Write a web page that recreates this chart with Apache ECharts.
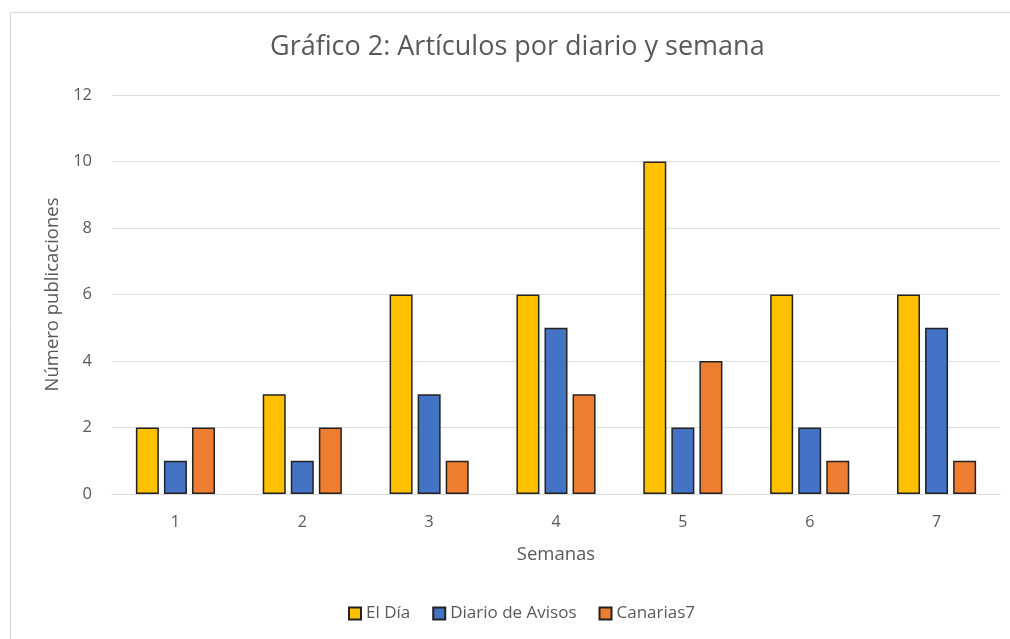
<!DOCTYPE html>
<html>
<head>
<meta charset="utf-8">
<script src="https://cdn.jsdelivr.net/npm/echarts@6/dist/echarts.min.js"></script>
<style>
	html, body { margin: 0; padding: 0; background: #fff; }
	#chart { width: 1010px; height: 639px; }
</style>
</head>
<body>
<div id="chart"></div>
<script>
	var semanas = ["1", "2", "3", "4", "5", "6", "7"];
	var elDia = [2, 3, 6, 6, 10, 6, 6];
	var diarioAvisos = [1, 1, 3, 5, 2, 2, 5];
	var canarias7 = [2, 2, 1, 3, 4, 1, 1];

	var font = "'Open Sans', 'Noto Sans', sans-serif";

	function barSerie(name, color, data) {
		return {
			name: name,
			type: "bar",
			data: data,
			barWidth: 23,
			barGap: "22%",
			itemStyle: {
				color: color,
				borderColor: "#222",
				borderWidth: 1.5
			}
		};
	}

	var chart = echarts.init(document.getElementById("chart"));

	chart.setOption({
		animation: false,
		textStyle: { fontFamily: font },
		graphic: [{
			type: "rect",
			shape: { x: 10.5, y: 12.5, width: 1100, height: 700 },
			style: { fill: "none", stroke: "#d9d9d9", lineWidth: 1 }
		}],
		title: {
			text: "Gráfico 2: Artículos por diario y semana",
			left: 265,
			top: 29,
			textStyle: { fontSize: 27, fontWeight: "normal", color: "#595959", fontFamily: font }
		},
		legend: {
			bottom: 12,
			left: 343,
			itemWidth: 12,
			itemHeight: 12,
			itemGap: 22,
			icon: "rect",
			textStyle: { fontSize: 17, color: "#595959", fontFamily: font }
		},
		grid: {
			left: 112,
			right: 10,
			top: 95,
			bottom: 145
		},
		xAxis: {
			type: "category",
			data: semanas,
			name: "Semanas",
			nameLocation: "middle",
			nameGap: 51,
			nameTextStyle: { fontSize: 18.5, color: "#595959" },
			axisLine: { lineStyle: { color: "#d9d9d9", width: 1 } },
			axisTick: { show: false },
			axisLabel: { fontSize: 16, color: "#595959", margin: 20 }
		},
		yAxis: {
			type: "value",
			min: 0,
			max: 12,
			interval: 2,
			name: "Número publicaciones",
			nameLocation: "middle",
			nameGap: 47,
			nameTextStyle: { fontSize: 18.5, color: "#595959" },
			axisLine: { show: false },
			axisTick: { show: false },
			axisLabel: { fontSize: 16.5, color: "#595959", margin: 20 },
			splitLine: { lineStyle: { color: "#e0e0e0", width: 1 } }
		},
		series: [
			barSerie("El Día", "#ffc000", elDia),
			barSerie("Diario de Avisos", "#4472c4", diarioAvisos),
			barSerie("Canarias7", "#ed7d31", canarias7)
		]
	});
</script>
</body>
</html>
